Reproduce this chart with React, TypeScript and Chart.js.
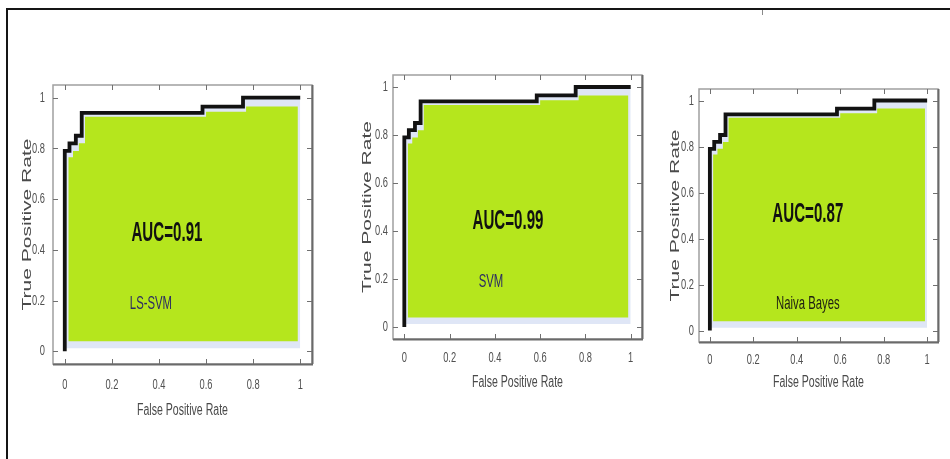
import { useEffect, useRef } from "react";
import { Chart, registerables } from "chart.js";

Chart.register(...registerables);

// ROC operating points (same curve drawn in all three panels)
const rocFpr = [0, 0, 0.02, 0.02, 0.047, 0.047, 0.072, 0.072, 0.585, 0.585, 0.757, 0.757, 1];
const rocTpr = [0, 0.79, 0.79, 0.82, 0.82, 0.85, 0.85, 0.94, 0.94, 0.965, 0.965, 1, 1];

// outline of the shaded area under the curve
const areaFpr = [0.015, 0.015, 0.035, 0.035, 0.06, 0.06, 0.086, 0.086, 0.6, 0.6, 0.77, 0.77, 0.99];
const areaTpr = [0.04, 0.765, 0.765, 0.79, 0.79, 0.82, 0.82, 0.925, 0.925, 0.945, 0.945, 0.965, 0.965];
const areaBase = 0.04;
const haloBase = 0.012;

const axisTicks = [0, 0.2, 0.4, 0.6, 0.8, 1];
const modelNames = ["LS-SVM", "SVM", "Naiva Bayes"];
const aucValues = [0.91, 0.99, 0.87];

const xTitle = "False Positive Rate";
const yTitle = "True Positive Rate";

// frame = [left, top, right, bottom] of each plot box on the page
const panelLayout = [
  { frame: [53, 85, 312, 374], yLabelGap: 8, xLabelGap: 21, xTitleGap: 47, yTitleX: 27, auc: [0.434, 0.463], name: [0.366, 0.185], nameColor: "#2c2c62" },
  { frame: [393, 75, 642, 349], yLabelGap: 5, xLabelGap: 19, xTitleGap: 44, yTitleX: 367, auc: [0.458, 0.44], name: [0.383, 0.187], nameColor: "#2c2c62" },
  { frame: [699, 89, 938, 352], yLabelGap: 5, xLabelGap: 18, xTitleGap: 41, yTitleX: 675, auc: [0.451, 0.502], name: [0.451, 0.113], nameColor: "#1e1e12" },
];

const TEXT_FONT = "'Liberation Sans', Arial, sans-serif";

function squeezedText(
  ctx: CanvasRenderingContext2D,
  text: string,
  x: number,
  y: number,
  font: string,
  color: string,
  sx: number,
  vertical = false,
  align: CanvasTextAlign = "center"
) {
  ctx.save();
  ctx.translate(x, y);
  ctx.scale(sx, 1);
  if (vertical) ctx.rotate(-Math.PI / 2);
  ctx.font = font;
  ctx.fillStyle = color;
  ctx.textAlign = align;
  ctx.textBaseline = "middle";
  ctx.fillText(text, 0, 0);
  ctx.restore();
}

function RocPanel({ index }: { index: number }) {
  const ref = useRef<HTMLCanvasElement>(null);
  const L = panelLayout[index];
  const [fl, ft, fr, fb] = L.frame;
  const cw = fr - fl + 70;
  const ch = fb - ft + 70;
  const canvasLeft = fl - 60;
  const canvasTop = ft - 10;

  useEffect(() => {
    const roc = rocFpr.map((x, i) => ({ x, y: rocTpr[i] }));
    const area = areaFpr.map((x, i) => ({ x, y: areaTpr[i] }));

    const decor = {
      id: "panelDecor",
      afterDatasetsDraw(chart: any) {
        const { ctx, chartArea: a } = chart;
        const xs = chart.scales.x;
        const ys = chart.scales.y;
        ctx.save();
        // plot box
        ctx.strokeStyle = "#a0a0a0";
        ctx.lineWidth = 1.5;
        ctx.strokeRect(a.left, a.top, a.right - a.left, a.bottom - a.top);
        ctx.strokeStyle = "#6a6a6a";
        ctx.lineWidth = 2;
        ctx.beginPath();
        ctx.moveTo(a.left, a.bottom + 0.5);
        ctx.lineTo(a.right + 1, a.bottom + 0.5);
        ctx.moveTo(a.right + 0.5, a.top);
        ctx.lineTo(a.right + 0.5, a.bottom);
        ctx.stroke();
        // inward tick marks
        ctx.strokeStyle = "#707070";
        ctx.lineWidth = 1;
        ctx.beginPath();
        for (const t of xs.ticks) {
          const px = Math.round(xs.getPixelForValue(t.value)) + 0.5;
          ctx.moveTo(px, a.bottom);
          ctx.lineTo(px, a.bottom - 5);
          ctx.moveTo(px, a.top);
          ctx.lineTo(px, a.top + 5);
        }
        for (const t of ys.ticks) {
          const py = Math.round(ys.getPixelForValue(t.value)) + 0.5;
          ctx.moveTo(a.left, py);
          ctx.lineTo(a.left + 5, py);
          ctx.moveTo(a.right, py);
          ctx.lineTo(a.right - 5, py);
        }
        ctx.stroke();
        ctx.restore();

        // tick labels, condensed
        for (const t of xs.ticks) {
          squeezedText(ctx, String(t.value), xs.getPixelForValue(t.value), a.bottom + L.xLabelGap,
            `15px ${TEXT_FONT}`, "#505050", 0.62);
        }
        for (const t of ys.ticks) {
          squeezedText(ctx, String(t.value), a.left - L.yLabelGap, ys.getPixelForValue(t.value),
            `15px ${TEXT_FONT}`, "#505050", 0.62, false, "right");
        }

        squeezedText(
          ctx,
          `AUC=${aucValues[index].toFixed(2)}`,
          xs.getPixelForValue(L.auc[0]),
          ys.getPixelForValue(L.auc[1]),
          `bold 27px ${TEXT_FONT}`,
          "#111111",
          0.56
        );
        squeezedText(
          ctx,
          modelNames[index],
          xs.getPixelForValue(L.name[0]),
          ys.getPixelForValue(L.name[1]),
          `18px ${TEXT_FONT}`,
          L.nameColor,
          0.63
        );
        squeezedText(
          ctx,
          xTitle,
          (a.left + a.right) / 2,
          a.bottom + L.xTitleGap,
          `16px ${TEXT_FONT}`,
          "#4a4a4a",
          0.66
        );
        squeezedText(
          ctx,
          yTitle,
          L.yTitleX - canvasLeft,
          (a.top + a.bottom) / 2,
          `21px ${TEXT_FONT}`,
          "#4a4a4a",
          0.62,
          true
        );
      },
    };

    const tickSetup = (scale: any) => {
      scale.ticks = axisTicks.map((v) => ({ value: v }));
    };

    const chart = new Chart(ref.current!, {
      type: "line",
      data: {
        datasets: [
          {
            data: roc,
            borderColor: "#121212",
            borderWidth: 3.8,
            borderJoinStyle: "miter",
            borderCapStyle: "butt",
            pointRadius: 0,
            fill: false,
            order: 0,
          },
          {
            data: area,
            borderColor: "rgba(0,0,0,0)",
            borderWidth: 1,
            backgroundColor: "#b5e61d",
            pointRadius: 0,
            fill: { value: areaBase },
            order: 1,
          },
          {
            data: roc,
            borderColor: "rgba(0,0,0,0)",
            borderWidth: 1,
            backgroundColor: "#dfe6f6",
            pointRadius: 0,
            fill: { value: haloBase },
            order: 2,
          },
        ],
      } as any,
      options: {
        responsive: false,
        animation: false,
        events: [],
        layout: { padding: { left: 10, right: 10, top: 10, bottom: 20 } },
        scales: {
          x: {
            type: "linear",
            min: -0.05,
            max: 1.05,
            afterBuildTicks: tickSetup,
            afterFit: (s: any) => {
              s.height = 50;
            },
            grid: { display: false, drawTicks: false },
            border: { display: false },
            ticks: { display: false },
          },
          y: {
            type: "linear",
            min: -0.05,
            max: 1.05,
            afterBuildTicks: tickSetup,
            afterFit: (s: any) => {
              s.width = 50;
            },
            grid: { display: false, drawTicks: false },
            border: { display: false },
            ticks: { display: false },
          },
        },
        plugins: {
          legend: { display: false },
          tooltip: { enabled: false },
        },
      } as any,
      plugins: [decor],
    });
    return () => chart.destroy();
  }, []);

  return (
    <canvas
      ref={ref}
      width={cw}
      height={ch}
      style={{ position: "absolute", left: canvasLeft, top: canvasTop, width: cw, height: ch }}
    />
  );
}

export default function App() {
  return (
    <div
      style={{
        position: "absolute",
        left: 0,
        top: 0,
        width: 950,
        height: 459,
        background: "#ffffff",
        overflow: "hidden",
      }}
    >
      <div
        style={{
          position: "absolute",
          left: 6,
          top: 8,
          width: 950,
          height: 460,
          borderTop: "2px solid #151515",
          borderLeft: "2px solid #151515",
        }}
      />
      <div style={{ position: "absolute", left: 762, top: 10, width: 1, height: 5, background: "#8a8a8a" }} />
      {panelLayout.map((_, i) => (
        <RocPanel key={i} index={i} />
      ))}
    </div>
  );
}
